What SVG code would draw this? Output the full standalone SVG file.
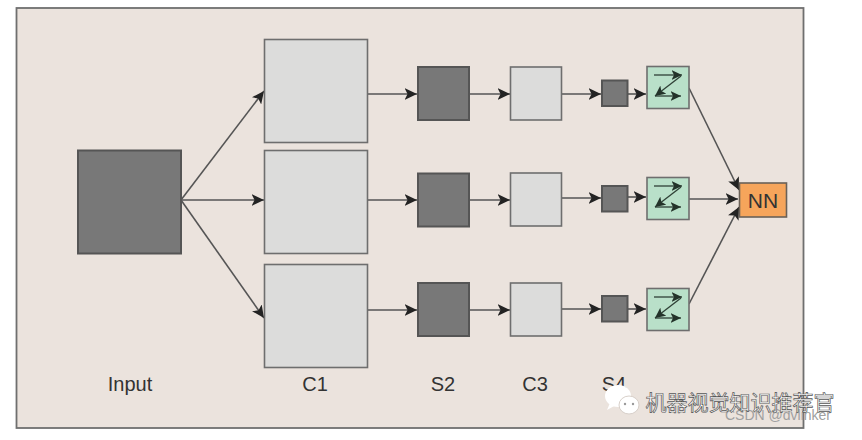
<svg xmlns="http://www.w3.org/2000/svg" width="862" height="440" viewBox="0 0 862 440">
<defs>
<marker id="arr" markerUnits="userSpaceOnUse" markerWidth="13" markerHeight="12" refX="10.500" refY="5" orient="auto" viewBox="0 0 11 10"><path d="M0 0L10.500 5L0 10L2.500 5Z" fill="#232323"/></marker>
<marker id="arrs" markerUnits="userSpaceOnUse" markerWidth="11" markerHeight="10" refX="10.500" refY="5" orient="auto" viewBox="0 0 11 10"><path d="M0 0L10.500 5L0 10L2.500 5Z" fill="#24332a"/></marker>
</defs>
<style>
.lbl{font-family:"Liberation Sans",Arial,sans-serif;font-size:20px;fill:#333;text-anchor:middle}
.dark{fill:#787878;stroke:#555;stroke-width:2}
.light{fill:#dcdcdb;stroke:#6e6e6e;stroke-width:1.6}
.green{fill:#b9e0c9;stroke:#6e6e6e;stroke-width:1.6}
.c{fill:none;stroke:#555;stroke-width:1.6;marker-end:url(#arr)}
.z{fill:none;stroke:#2f4036;stroke-width:1.3;marker-end:url(#arrs)}
</style>
<rect x="0" y="0" width="862" height="440" fill="#fff"/>
<rect id="frame" x="16.500" y="8" width="787" height="420" fill="#ebe3dd" stroke="#6f6f6f" stroke-width="1.800"/>
<g id="connectors">
<path class="c" d="M181 200L264 91"/><path class="c" d="M181 200L264 200"/><path class="c" d="M181 200L264 318"/>
<path class="c" d="M368 94L417 94"/><path class="c" d="M368 200L417 200"/><path class="c" d="M368 310L417 310"/>
<path class="c" d="M470 94L510 94"/><path class="c" d="M470 200L510 200"/><path class="c" d="M470 310L510 310"/>
<path class="c" d="M562 94L601 94"/><path class="c" d="M562 198L601 198"/><path class="c" d="M562 309L601 309"/>
<path class="c" d="M628 94L646 94"/><path class="c" d="M628 197L646 197"/><path class="c" d="M628 309L646 309"/>
<path class="c" d="M689 88L739 190"/><path class="c" d="M689 199L738 199"/><path class="c" d="M689 304L739 207"/>
</g>
<g id="input"><rect class="dark" x="78" y="150.500" width="103" height="103"/><text class="lbl" x="130" y="391">Input</text></g>
<g id="c1">
<rect class="light" x="264.500" y="39.500" width="103" height="103"/>
<rect class="light" x="264.500" y="150.500" width="103" height="103"/>
<rect class="light" x="264.500" y="264.500" width="103" height="103"/>
<text class="lbl" x="315" y="391">C1</text></g>
<g id="s2">
<rect class="dark" x="418" y="67" width="51" height="53"/>
<rect class="dark" x="418" y="173.500" width="51" height="53"/>
<rect class="dark" x="418" y="283" width="51" height="53"/>
<text class="lbl" x="443" y="391">S2</text></g>
<g id="c3">
<rect class="light" x="510.500" y="67" width="51" height="53"/>
<rect class="light" x="510.500" y="173" width="51" height="53"/>
<rect class="light" x="510.500" y="283" width="51" height="53"/>
<text class="lbl" x="535" y="391">C3</text></g>
<g id="s4">
<rect class="dark" x="602" y="80.500" width="25.500" height="25.500"/>
<rect class="dark" x="602" y="186" width="25.500" height="25.500"/>
<rect class="dark" x="602" y="296" width="25.500" height="25.500"/>
<text class="lbl" x="614" y="391">S4</text></g>
<g id="f1"><rect class="green" x="647" y="66.500" width="42" height="42"/><path class="z" d="M654 75L682 75"/><path class="z" d="M681 76L655 96"/><path class="z" d="M655 96L681 96"/></g>
<g id="f2"><rect class="green" x="647" y="177.500" width="42" height="42"/><path class="z" d="M654 186L682 186"/><path class="z" d="M681 187L655 207"/><path class="z" d="M655 207L681 207"/></g>
<g id="f3"><rect class="green" x="647" y="288.500" width="42" height="42"/><path class="z" d="M654 297L682 297"/><path class="z" d="M681 298L655 318"/><path class="z" d="M655 318L681 318"/></g>
<g id="nn"><rect x="739.500" y="183" width="47" height="34" fill="#f6a55b" stroke="#6a6158" stroke-width="1.600"/><text x="763" y="208" font-family="'Liberation Sans',Arial,sans-serif" font-size="21" fill="#333" text-anchor="middle">NN</text></g>
<g id="watermark">
<text x="778" y="420" font-family="'Liberation Sans',Arial,sans-serif" font-size="14" fill="#a0a0a0" text-anchor="middle">CSDN @dvlinker</text>
<ellipse cx="618" cy="396" rx="13" ry="11" fill="#fff"/><path d="M610 403L607 410L616 405Z" fill="#fff"/>
<ellipse cx="629" cy="405" rx="10" ry="9" fill="#fff" stroke="#d8d0ca" stroke-width="1"/>
<circle cx="625" cy="404" r="1.200" fill="#999"/><circle cx="633" cy="404" r="1.200" fill="#999"/>
<text x="740" y="410" font-family="'Noto Sans CJK SC',sans-serif" font-size="21" fill="#fff" stroke="#555" stroke-width="0.700" text-anchor="middle">机器视觉知识推荐官</text>
</g>
</svg>
